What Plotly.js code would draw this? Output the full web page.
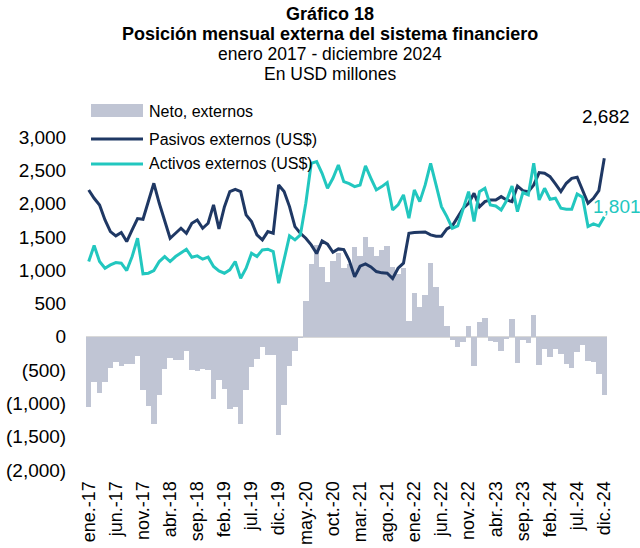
<!DOCTYPE html>
<html>
<head>
<meta charset="utf-8">
<script src="https://cdn.plot.ly/plotly-3.0.1.min.js"></script>
<style>html,body{margin:0;padding:0;background:#fff;}#chart{width:640px;height:548px;}</style>
</head>
<body>
<div id="chart"></div>
<script>
// Monthly data, ene-2017 .. dic-2024 (96 months), USD millions
const tickLabels = ["ene.-17","jun.-17","nov.-17","abr.-18","sep.-18","feb.-19","jul.-19","dic.-19",
  "may.-20","oct.-20","mar.-21","ago.-21","ene.-22","jun.-22","nov.-22","abr.-23","sep.-23","feb.-24","jul.-24","dic.-24"];

const pasivos = [
  2205,2080,1980,1755,1580,1515,1565,1430,1605,1775,1765,2030,
  2305,2005,1755,1480,1555,1630,1555,1705,1755,1630,1705,1980,
  1620,1950,2180,2215,2180,1830,1730,1530,1455,1580,1555,2280,
  2180,1955,1655,1555,1480,1380,1250,1440,1390,1270,1320,1310,
  1150,900,1060,1095,1050,980,960,955,875,1030,1105,1555,
  1565,1565,1575,1530,1510,1510,1620,1665,1805,1930,2005,2155,
  1950,2030,2055,2055,2105,2055,2030,2265,2195,2180,2280,2465,
  2455,2405,2295,2180,2305,2380,2395,2205,2005,2080,2195,2682
];

const activos = [
  1130,1370,1130,1030,1080,1115,1105,995,1205,1480,945,955,
  995,1130,1205,1130,1205,1265,1315,1195,1215,1165,1195,1055,
  990,955,1005,1130,880,1030,1255,1205,1305,1315,1280,805,
  1155,1515,1455,1530,2005,2605,2630,2455,2230,2380,2580,2330,
  2300,2255,2280,2565,2380,2205,2255,2315,1905,1980,2130,1780,
  2205,2030,2280,2605,2280,1955,1805,1630,1665,1905,2180,1730,
  2180,2230,1980,1965,1905,2045,2265,1880,2165,2130,2605,2055,
  2230,2065,2080,1930,1915,1915,2145,2095,1655,1695,1665,1801
];

const neto = [
  -1060,-685,-845,-685,-470,-385,-445,-410,-405,-295,-795,-1045,
  -1305,-870,-485,-320,-345,-355,-220,-505,-520,-480,-500,-935,
  -645,-785,-1085,-1060,-1305,-795,-460,-330,-150,-270,-280,-1470,
  -1020,-440,-220,-25,545,1100,1380,1050,830,1145,1265,1030,
  1100,1355,1215,1495,1355,1215,1305,1365,1050,950,1040,230,
  655,455,625,1105,750,460,155,-50,-160,-85,160,-440,
  215,280,-60,-75,-210,-40,265,-400,-55,-100,330,-425,
  -185,-310,-185,-260,-410,-475,-235,-130,-365,-375,-560,-880
];

const yTickVals = [3000,2500,2000,1500,1000,500,0,-500,-1000,-1500,-2000];
const yTickText = ["3,000","2,500","2,000","1,500","1,000","500","0","(500)","(1,000)","(1,500)","(2,000)"];

const seriesNames = ["Neto, externos","Pasivos externos (US$)","Activos externos (US$)"];
const titleLines = ["<b>Gráfico 18</b>","<b>Posición mensual externa del sistema financiero</b>","enero 2017 - diciembre 2024","En USD millones"];
const colors = {neto:"#c0c5d4", pasivos:"#1f3864", activos:"#22c7bf"};

const idx = pasivos.map((_, i) => i);
const tickVals = tickLabels.map((_, k) => k * 5);

const traces = [
  {type:"bar", x:idx, y:neto, name:seriesNames[0], marker:{color:colors.neto, line:{width:0}}, hoverinfo:"skip"},
  {type:"scatter", mode:"lines", x:idx, y:pasivos, name:seriesNames[1], line:{color:colors.pasivos, width:3}},
  {type:"scatter", mode:"lines", x:idx, y:activos, name:seriesNames[2], line:{color:colors.activos, width:3}}
];

const font = "Liberation Sans, Arial, sans-serif";
const L = 86, R = 607, T = 137, B = 470;
const pw = R - L, ph = B - T;
const px = v => (v - L) / pw;           // pixel x -> paper x
const py = v => (B - v) / ph;           // pixel y -> paper y

const shapes = [
  {type:"rect", xref:"paper", yref:"paper", x0:px(91), x1:px(143), y0:py(117), y1:py(104), fillcolor:colors.neto, line:{width:0}},
  {type:"line", xref:"paper", yref:"paper", x0:px(91), x1:px(143), y0:py(139), y1:py(139), line:{color:colors.pasivos, width:3}},
  {type:"line", xref:"paper", yref:"paper", x0:px(91), x1:px(143), y0:py(164), y1:py(164), line:{color:colors.activos, width:3}}
];

const annotations = [];
const titleY = [14, 34, 54, 74];
const titleSize = [18, 18, 17.5, 17.5];
titleLines.forEach((t, k) => annotations.push({
  xref:"paper", yref:"paper", x:px(330), y:py(titleY[k]), text:t, showarrow:false,
  xanchor:"center", yanchor:"middle", font:{family:font, size:titleSize[k], color:"#000"}
}));
const legY = [111, 139, 164];
seriesNames.forEach((n, k) => annotations.push({
  xref:"paper", yref:"paper", x:px(147), y:py(legY[k]), text:n, showarrow:false,
  xanchor:"left", yanchor:"middle", font:{family:font, size:16, color:"#000"}
}));
annotations.push(
  {x:idx[idx.length-1], y:pasivos[pasivos.length-1], text:pasivos[pasivos.length-1].toLocaleString("en-US"), showarrow:false, xanchor:"center", yanchor:"middle", yshift:42, xshift:2, font:{family:font, size:19, color:"#000"}},
  {x:idx[idx.length-1], y:activos[activos.length-1], text:activos[activos.length-1].toLocaleString("en-US"), showarrow:false, xanchor:"center", yanchor:"middle", yshift:10, xshift:13, font:{family:font, size:19, color:colors.activos}}
);

const layout = {
  width:640, height:548,
  margin:{l:L, r:640-R, t:T, b:548-B, pad:0},
  paper_bgcolor:"#fff", plot_bgcolor:"#fff",
  showlegend:false,
  bargap:0,
  font:{family:font, color:"#000"},
  xaxis:{
    range:[-0.5, 95.5], tickmode:"array", tickvals:tickVals, ticktext:tickLabels,
    tickangle:-90, showgrid:false, zeroline:false, showline:false,
    ticks:"outside", ticklen:3, tickcolor:"rgba(0,0,0,0)",
    tickfont:{family:font, size:18, color:"#000"}, fixedrange:true
  },
  yaxis:{
    range:[-2000, 3000], tickmode:"array", tickvals:yTickVals, ticktext:yTickText,
    showgrid:false, zeroline:true, zerolinecolor:"#d9d9d9", zerolinewidth:2, showline:false,
    ticks:"outside", ticklen:15, tickcolor:"rgba(0,0,0,0)",
    tickfont:{family:font, size:19, color:"#000"}, fixedrange:true
  },
  shapes:shapes,
  annotations:annotations
};

Plotly.newPlot("chart", traces, layout, {displayModeBar:false, staticPlot:true});
</script>
</body>
</html>
